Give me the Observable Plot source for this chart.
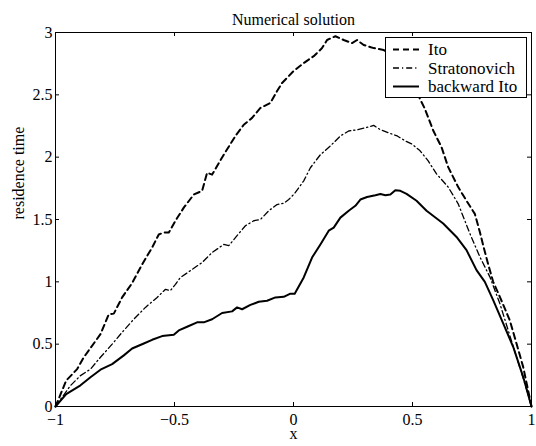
<!DOCTYPE html>
<html><head><meta charset="utf-8">
<script src="https://cdn.jsdelivr.net/npm/d3@7"></script>
<script src="https://cdn.jsdelivr.net/npm/@observablehq/plot@0.6"></script>
<style>
body{margin:0;background:#fff}
#chart{width:536px;height:446px}
#chart svg text{font-family:'Liberation Serif','Times New Roman',serif !important}
</style>
</head><body><div id="chart"></div>
<script>
const title = "Numerical solution";
const xLabel = "x";
const yLabel = "residence time";
const seriesNames = ["Ito", "Stratonovich", "backward Ito"];
const xTicks = [-1, -0.5, 0, 0.5, 1];
const yTicks = [0, 0.5, 1, 1.5, 2, 2.5, 3];

const itoX = [-1, -0.955, -0.909, -0.881, -0.811, -0.776, -0.755, -0.72, -0.678, -0.636, -0.594, -0.566, -0.545, -0.524, -0.496, -0.461, -0.419, -0.384, -0.363, -0.342, -0.293, -0.244, -0.209, -0.174, -0.139, -0.097, -0.069, -0.048, 0.0, 0.043, 0.085, 0.12, 0.141, 0.176, 0.211, 0.246, 0.267, 0.295, 0.337, 0.379, 0.42, 0.47, 0.51, 0.552, 0.587, 0.622, 0.65, 0.692, 0.727, 0.762, 0.783, 0.80, 0.818, 0.839, 0.867, 0.909, 0.937, 0.965, 1];
const itoY = [0, 0.208, 0.30, 0.395, 0.58, 0.74, 0.745, 0.875, 0.99, 1.14, 1.275, 1.38, 1.395, 1.395, 1.49, 1.595, 1.70, 1.73, 1.875, 1.86, 2.02, 2.17, 2.26, 2.315, 2.395, 2.435, 2.53, 2.595, 2.69, 2.755, 2.81, 2.875, 2.94, 2.97, 2.94, 2.915, 2.94, 2.90, 2.875, 2.86, 2.80, 2.68, 2.55, 2.388, 2.214, 2.08, 1.92, 1.76, 1.65, 1.545, 1.40, 1.27, 1.14, 1.0, 0.88, 0.69, 0.505, 0.318, 0];

const strX = [-1, -0.937, -0.895, -0.853, -0.811, -0.762, -0.72, -0.671, -0.622, -0.573, -0.538, -0.517, -0.496, -0.475, -0.433, -0.384, -0.342, -0.293, -0.272, -0.244, -0.202, -0.167, -0.139, -0.104, -0.069, -0.041, -0.02, 0.005, 0.043, 0.071, 0.113, 0.155, 0.197, 0.232, 0.267, 0.302, 0.337, 0.365, 0.40, 0.436, 0.47, 0.496, 0.531, 0.566, 0.601, 0.65, 0.692, 0.741, 0.783, 0.825, 0.867, 0.902, 0.937, 0.972, 1];
const strY = [0, 0.168, 0.248, 0.30, 0.395, 0.50, 0.595, 0.70, 0.795, 0.875, 0.94, 0.93, 0.98, 1.035, 1.09, 1.155, 1.235, 1.30, 1.29, 1.355, 1.45, 1.49, 1.50, 1.57, 1.62, 1.63, 1.66, 1.71, 1.81, 1.915, 2.02, 2.09, 2.17, 2.21, 2.22, 2.235, 2.255, 2.22, 2.195, 2.17, 2.13, 2.107, 2.053, 1.97, 1.866, 1.76, 1.626, 1.388, 1.20, 1.04, 0.826, 0.612, 0.398, 0.184, 0];

const bwdX = [-1, -0.955, -0.895, -0.853, -0.811, -0.762, -0.713, -0.678, -0.629, -0.594, -0.552, -0.503, -0.482, -0.447, -0.405, -0.377, -0.342, -0.30, -0.258, -0.237, -0.216, -0.181, -0.146, -0.111, -0.076, -0.041, -0.013, 0.005, 0.043, 0.078, 0.113, 0.148, 0.169, 0.197, 0.232, 0.26, 0.281, 0.309, 0.344, 0.365, 0.386, 0.407, 0.428, 0.449, 0.475, 0.517, 0.559, 0.629, 0.685, 0.727, 0.769, 0.804, 0.839, 0.881, 0.923, 0.965, 1];
const bwdY = [0, 0.10, 0.17, 0.235, 0.295, 0.34, 0.41, 0.465, 0.505, 0.535, 0.565, 0.575, 0.61, 0.64, 0.675, 0.675, 0.70, 0.75, 0.763, 0.795, 0.78, 0.815, 0.84, 0.848, 0.875, 0.88, 0.905, 0.905, 1.035, 1.195, 1.30, 1.41, 1.435, 1.515, 1.57, 1.61, 1.66, 1.68, 1.695, 1.705, 1.695, 1.70, 1.735, 1.73, 1.706, 1.65, 1.57, 1.468, 1.36, 1.254, 1.094, 1.0, 0.853, 0.666, 0.479, 0.238, 0];

const FONT = "'Liberation Serif', 'Times New Roman', serif";
const styles = [
  {dash: "6,4", w: 2},
  {dash: "6,3,1.2,3", w: 1.3},
  {dash: null, w: 2}
];
const fmt = d => String(d).replace("-", "\u2212");
const rows = (xs, ys) => xs.map((x, i) => ({x, y: ys[i]}));
const series = [rows(itoX, itoY), rows(strX, strY), rows(bwdX, bwdY)];

const plot = Plot.plot({
  width: 536, height: 446,
  marginLeft: 55, marginRight: 5, marginTop: 32, marginBottom: 40,
  style: {fontFamily: FONT, fontSize: "16px", background: "white", color: "black", overflow: "visible"},
  x: {domain: [-1, 1]},
  y: {domain: [0, 3]},
  marks: [
    ...series.map((d, i) => Plot.line(d, {x: "x", y: "y", stroke: "black", strokeWidth: styles[i].w, strokeDasharray: styles[i].dash})),
    Plot.frame({stroke: "black"}),
    Plot.ruleX(xTicks, {x: d => d, insetTop: 370, stroke: "black"}),
    Plot.ruleX(xTicks, {x: d => d, insetBottom: 370, stroke: "black"}),
    Plot.ruleY(yTicks, {y: d => d, insetRight: 472, stroke: "black"}),
    Plot.ruleY(yTicks, {y: d => d, insetLeft: 472, stroke: "black"}),
    Plot.axisX(xTicks, {tickSize: 0, tickPadding: 7, label: null, tickFormat: fmt, fontSize: 16, fontFamily: FONT}),
    Plot.axisY(yTicks, {tickSize: 0, tickPadding: 3, label: null, tickFormat: fmt, fontSize: 16, fontFamily: FONT}),
    Plot.text([title], {text: d => d, frameAnchor: "top", dy: -19, fontSize: 16}),
    Plot.text([xLabel], {text: d => d, frameAnchor: "bottom", dy: 32, fontSize: 16}),
    Plot.text([yLabel], {text: d => d, frameAnchor: "left", dx: -37, rotate: -90, fontSize: 16})
  ]
});
document.getElementById("chart").appendChild(plot);

// legend
const svg = d3.select(plot);
const g = svg.append("g").attr("font-family", FONT).attr("font-size", 17).attr("text-anchor", "start");
g.append("rect").attr("x", 385.5).attr("y", 37.5).attr("width", 141).attr("height", 60)
  .attr("fill", "white").attr("stroke", "black");
seriesNames.forEach((n, i) => {
  const yy = 49.5 + i * 18.5;
  g.append("line").attr("x1", 393).attr("x2", 419).attr("y1", yy).attr("y2", yy)
    .attr("stroke", "black").attr("stroke-width", styles[i].w)
    .attr("stroke-dasharray", styles[i].dash);
  g.append("text").attr("x", 428).attr("y", yy).attr("dy", "0.35em")
    .attr("text-anchor", "start").attr("fill", "black").text(n);
});
</script>
</body></html>
